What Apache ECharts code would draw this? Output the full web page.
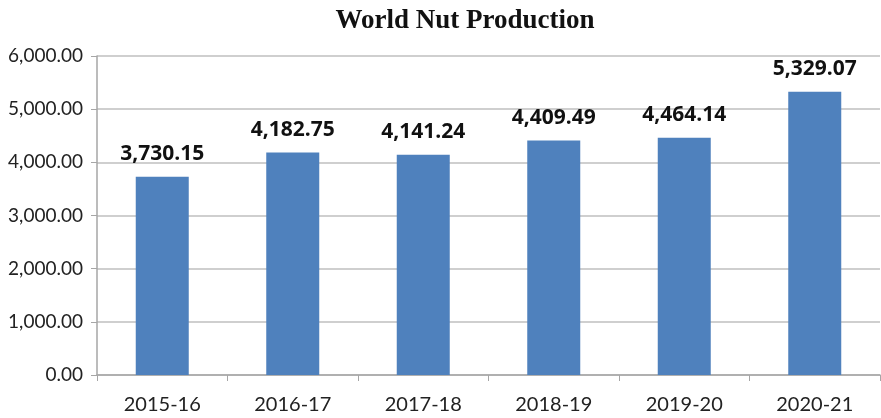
<!DOCTYPE html>
<html>
<head>
<meta charset="utf-8">
<script src="https://cdn.jsdelivr.net/npm/echarts@6/dist/echarts.min.js"></script>
<style>
  html, body { margin: 0; padding: 0; background: #fff; }
  #chart { width: 881px; height: 418px; }
</style>
</head>
<body>
<div id="chart"></div>
<script>
const seasons = ['2015-16', '2016-17', '2017-18', '2018-19', '2019-20', '2020-21'];
const production = [3730.15, 4182.75, 4141.24, 4409.49, 4464.14, 5329.07];
const yTicks = [0, 1000, 2000, 3000, 4000, 5000, 6000];

const fmt = v => v.toLocaleString('en-US', { minimumFractionDigits: 2, maximumFractionDigits: 2 });

const chart = echarts.init(document.getElementById('chart'));
chart.setOption({
    animation: false,
    title: {
        text: 'World Nut Production',
        left: 460,
        textAlign: 'center',
        top: 3,
        textStyle: { fontFamily: 'Liberation Serif', fontWeight: 'bold', fontSize: 27, color: '#111' }
    },
    grid: { left: 97, right: 1, top: 56, bottom: 43 },
    xAxis: {
        type: 'category',
        data: seasons,
        axisLine: { lineStyle: { color: '#a6a6a6', width: 1.5 } },
        axisTick: { show: true, length: 6, lineStyle: { color: '#a6a6a6' } },
        axisLabel: { fontFamily: 'Lato', fontSize: 20, color: '#222', margin: 20 }
    },
    yAxis: {
        type: 'value',
        min: yTicks[0],
        max: yTicks[yTicks.length - 1],
        interval: 1000,
        axisLine: { show: true, lineStyle: { color: '#a6a6a6', width: 1.5 } },
        axisTick: { show: true, length: 6, lineStyle: { color: '#a6a6a6' } },
        splitLine: { lineStyle: { color: '#bfbfbf', width: 1.5 } },
        axisLabel: { fontFamily: 'Lato', fontSize: 19, color: '#222', margin: 14, formatter: v => fmt(v) }
    },
    series: [{
        type: 'bar',
        data: production,
        barWidth: 53,
        itemStyle: { color: '#4f81bd' },
        label: {
            show: true,
            position: 'top',
            distance: 12,
            fontFamily: 'Open Sans',
            fontWeight: 'bold',
            fontSize: 21,
            color: '#111',
            formatter: p => fmt(p.value)
        }
    }]
});
</script>
</body>
</html>
